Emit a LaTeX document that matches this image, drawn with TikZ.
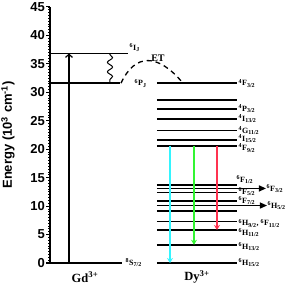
\documentclass[tikz,border=0pt]{standalone}
\usepackage{fontspec}
\setmainfont{Liberation Serif}
\setsansfont{Liberation Sans}
\usetikzlibrary{arrows.meta,positioning,decorations.pathmorphing}
\definecolor{cyanl}{HTML}{33F5FF}
\definecolor{greenl}{HTML}{33F533}
\definecolor{redl}{HTML}{FF3350}
\newcommand\lvl[3]{\textsuperscript{#1}#2\textsubscript{#3}}
\tikzset{axis/.style={line width=1.1pt},lev/.style={line width=1.7pt},lab/.style={font=\bfseries\fontsize{8}{8}\selectfont,anchor=west,inner sep=0.5pt},tick/.style={font=\sffamily\bfseries\fontsize{13}{13}\selectfont,anchor=east,inner sep=0.5pt},ion/.style={font=\bfseries\fontsize{12.5}{12.5}\selectfont},exc/.style={-{Straight Barb[length=3pt,width=7pt]},line width=1.2pt},nrd/.style={decorate,decoration={snake,amplitude=2.6pt,segment length=9.5pt,pre length=1pt,post length=1pt},line width=1pt},trf/.style={dashed,dash pattern=on 5pt off 4pt,line width=1.3pt},emi/.style={-{Stealth[length=5pt,width=6pt]},line width=1.5pt},arr/.style={-{Triangle[length=7pt,width=6pt]},line width=1.3pt}}

\begin{document}
\begin{tikzpicture}[x=1pt,y=5.69pt]
\useasboundingbox (0,-3.87) rectangle (285,46.22);
\draw[axis] (50,0)--(50,45);
\foreach \e in {0,0.5,...,45} \draw[axis,line width=0.8pt] (50,\e)--++(-2pt,0);
\foreach \e in {0,5,...,45} \draw[axis] (50,\e)--++(-4pt,0) node[tick] (t\e) {\e};
\node[font=\sffamily\bfseries\fontsize{13}{13}\selectfont,rotate=90] (en) at (8,22.5) {Energy (10\textsuperscript{3} cm\textsuperscript{-1})};
\draw[lev] (50,0)--(122,0);\draw[lev] (50,31.6)--(120,31.6);\draw[lev] (50,36.8)--(128,36.8);
\foreach \e in {31.6,28.6,27.1,25.3,23.3,21.6,20.6,13.7,13.1,12.4,10.9,10.1,9.1,7.3,5.8,3.2,0} \draw[lev] (157,\e)--(237,\e);
\node[lab] (s8) at (125,0) {\lvl{8}{S}{7/2}};
\node[lab] (p6) at (134,31.6) {\lvl{6}{P}{J}};
\node[lab] (i6) at (129,37.8) {\lvl{6}{I}{J}};
\node[lab] (f32) at (238,31.6) {\lvl{4}{F}{3/2}};
\node[lab] (p32) at (238,27.1) {\lvl{4}{P}{3/2}};
\node[lab] (i132) at (238,25.3) {\lvl{4}{I}{13/2}};
\node[lab] (g112) at (238,23.3) {\lvl{4}{G}{11/2}};
\node[lab] (i152) at (238,21.9) {\lvl{4}{I}{15/2}};
\node[lab] (f92) at (238,20.2) {\lvl{4}{F}{9/2}};
\node[lab] (sf12) at (236,14.7) {\lvl{6}{F}{1/2}};
\node[lab] (sf52) at (238,12.5) {\lvl{6}{F}{5/2}};
\node[lab] (sf72) at (238,10.9) {\lvl{6}{F}{7/2}};
\node[lab] (sh9) at (238,7.0) {\lvl{6}{H}{9/2}, \lvl{6}{F}{11/2}};
\node[lab] (sh11) at (238,5.4) {\lvl{6}{H}{11/2}};
\node[lab] (sh13) at (238,2.9) {\lvl{6}{H}{13/2}};
\node[lab] (sh15) at (238,0) {\lvl{6}{H}{15/2}};
\node[lab] (sf32) at (266,13.1) {\lvl{6}{F}{3/2}};
\node[lab] (sh52) at (267,10.1) {\lvl{6}{H}{5/2}};
\node[ion] (gd) at (85,-2.5) {Gd\textsuperscript{3+}};
\node[ion] (dy) at (197,-2.5) {Dy\textsuperscript{3+}};
\node[font=\bfseries\fontsize{10}{10}\selectfont] (et) at (158,36.0) {ET};
\coordinate (ga) at (69,0);\coordinate (gb) at (69,36.8);\coordinate (wa) at (110,36.8);\coordinate (wb) at (110,31.6);
\coordinate (ea) at (121,31.6);\coordinate (eb) at (183,31.6);
\coordinate (c0) at (170,20.6);\coordinate (c1) at (170,0);\coordinate (g0) at (194,20.6);\coordinate (g1) at (194,3.2);\coordinate (r0) at (217,20.6);\coordinate (r1) at (217,5.8);
\coordinate (fa) at (237,13.1);\coordinate (ha) at (237,10.1);
\draw[exc] (ga)--(gb);\draw[nrd] (wa)--(wb);\draw[trf] (ea) .. controls (135,36.9) and (158,36.9) .. (eb);
\draw[emi,cyanl] (c0)--(c1);\draw[emi,greenl] (g0)--(g1);\draw[emi,redl] (r0)--(r1);
\draw[arr] (fa)--(sf32.west);\draw[arr] (ha)--(sh52.west);
\end{tikzpicture}
\end{document}
